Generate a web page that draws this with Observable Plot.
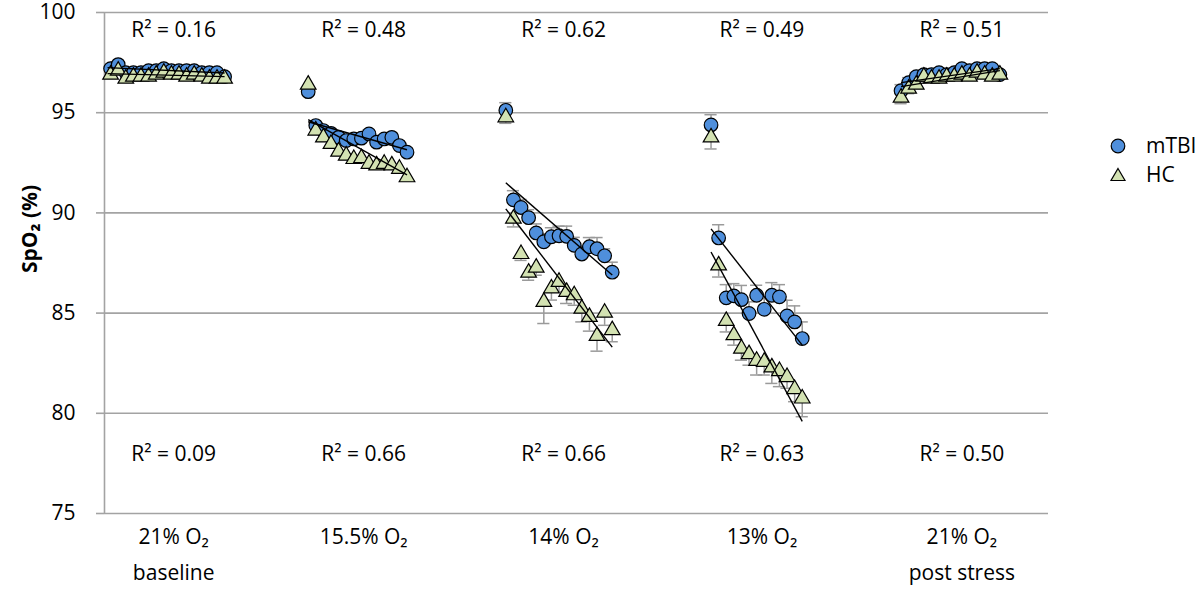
<!DOCTYPE html>
<html>
<head>
<meta charset="utf-8">
<script src="https://cdn.jsdelivr.net/npm/d3@7"></script>
<script src="https://cdn.jsdelivr.net/npm/@observablehq/plot@0.6"></script>
<style>
  body { margin: 0; background: #fff; font-family: "Open Sans", sans-serif; }
  #wrap { position: relative; width: 1198px; height: 595px; }
  #legend { position: absolute; left: 1109px; top: 131px; font-size: 21px; line-height: 29px; color: #000; }
  #legend div { display: flex; align-items: center; height: 29px; }
  #legend svg { margin-right: 19px; }
</style>
</head>
<body>
<div id="wrap">
  <div id="chart"></div>
  <div id="legend"></div>
</div>
<script>
// ---- data ----
const phaseLabels = ["21% O\u2082\nbaseline", "15.5% O\u2082", "14% O\u2082", "13% O\u2082", "21% O\u2082\npost stress"];
const phaseLabelX = [9.3, 34.3, 60.6, 86.7, 113];           // minute at which each phase label sits
const r2mTBI = ["0.16", "0.48", "0.62", "0.49", "0.51"];
const r2HC   = ["0.09", "0.66", "0.66", "0.63", "0.50"];
const phaseStart = [1, 27, 53, 80, 105];                      // minute of the first sample of each phase

const mtbiValues = [
  [97.2, 97.4, 97.0, 97.0, 97.0, 97.1, 97.1, 97.2, 97.1, 97.1, 97.1, 97.1, 97.0, 97.0, 97.0, 96.8],
  [96.05, 94.36, 94.11, 93.97, 93.77, 93.61, 93.69, 93.73, 93.94, 93.53, 93.69, 93.77, 93.36, 93.03],
  [95.12, 90.65, 90.27, 89.76, 89.0, 88.56, 88.81, 88.86, 88.83, 88.38, 87.95, 88.31, 88.21, 87.86, 87.04],
  [94.39, 88.75, 85.76, 85.86, 85.67, 84.98, 85.89, 85.19, 85.89, 85.81, 84.86, 84.56, 83.73],
  [96.1, 96.5, 96.8, 96.9, 96.9, 97.0, 96.9, 97.0, 97.2, 97.1, 97.2, 97.2, 97.2, 96.9]
];
const hcValues = [
  [96.9, 97.1, 96.7, 96.8, 96.8, 96.8, 96.9, 97.0, 96.9, 96.9, 96.8, 96.9, 96.8, 96.7, 96.7, 96.7],
  [96.4, 94.11, 93.77, 93.44, 93.06, 92.86, 92.69, 92.73, 92.45, 92.37, 92.45, 92.37, 92.20, 91.78],
  [94.77, 89.71, 87.95, 87.02, 87.27, 85.56, 86.23, 86.56, 86.06, 85.89, 85.22, 84.81, 83.86, 85.02, 84.15],
  [93.77, 87.38, 84.61, 83.90, 83.23, 82.95, 82.62, 82.57, 82.29, 82.11, 81.81, 81.21, 80.74],
  [95.75, 96.2, 96.4, 96.8, 96.7, 96.7, 96.8, 96.8, 96.9, 96.8, 97.0, 96.9, 96.8, 96.9]
];
const mtbiSE = [
  [0.12, 0.12, 0.12, 0.12, 0.12, 0.12, 0.12, 0.12, 0.12, 0.12, 0.12, 0.12, 0.12, 0.12, 0.12, 0.12],
  [0.2, 0.15, 0.15, 0.15, 0.15, 0.18, 0.18, 0.18, 0.2, 0.2, 0.2, 0.2, 0.2, 0.22],
  [0.38, 0.46, 0.4, 0.4, 0.45, 0.4, 0.45, 0.48, 0.51, 0.4, 0.4, 0.46, 0.56, 0.35, 0.5],
  [0.51, 0.66, 0.66, 0.61, 0.71, 0.58, 0.5, 0.53, 0.63, 0.61, 0.78, 0.8, 0.83],
  [0.3, 0.25, 0.2, 0.2, 0.15, 0.15, 0.15, 0.15, 0.15, 0.15, 0.15, 0.15, 0.15, 0.15]
];
const hcSE = [
  [0.12, 0.12, 0.12, 0.12, 0.12, 0.12, 0.12, 0.12, 0.12, 0.12, 0.12, 0.12, 0.12, 0.12, 0.12, 0.12],
  [0.15, 0.2, 0.2, 0.2, 0.2, 0.2, 0.2, 0.2, 0.2, 0.2, 0.2, 0.2, 0.2, 0.2],
  [0.3, 0.41, 0.32, 0.38, 0.38, 1.08, 0.58, 0.5, 0.58, 0.5, 0.66, 0.71, 0.76, 0.63, 0.58],
  [0.58, 0.58, 0.55, 0.5, 0.58, 0.55, 0.71, 0.66, 0.8, 0.78, 0.56, 0.63, 0.91],
  [0.3, 0.25, 0.2, 0.2, 0.15, 0.15, 0.15, 0.15, 0.15, 0.15, 0.15, 0.15, 0.15, 0.15]
];
// trend lines: [start minute, end minute] and [start value, end value]
const trendX    = [[0.6, 16], [27, 40], [53, 67], [80, 92], [105, 118]];
const mtbiTrend = [[97.25, 96.98], [94.55, 93.15], [91.5, 86.9], [89.2, 83.4], [96.5, 97.2]];
const hcTrend   = [[96.95, 96.8], [94.65, 91.9], [90.2, 83.3], [88.05, 79.6], [96.3, 97.1]];
const yTicks = [75, 80, 85, 90, 95, 100];

// ---- build tables ----
function points(values, se, group) {
  const out = [];
  values.forEach((arr, p) => arr.forEach((v, i) => out.push({t: phaseStart[p] + i, v, se: se[p][i], group})));
  return out;
}
const mtbi = points(mtbiValues, mtbiSE, "mTBI");
const hc = points(hcValues, hcSE, "HC");
mtbi.forEach(d => { d.lo = d.v; d.hi = d.v + d.se; d.cap = d.hi; });
hc.forEach(d => { d.lo = d.v - d.se; d.hi = d.v; d.cap = d.lo; });
const errs = mtbi.concat(hc);
const capHalf = 0.8;

const trends = [];
trendX.forEach((tx, p) => {
  trends.push({x1: tx[0], x2: tx[1], y1: mtbiTrend[p][0], y2: mtbiTrend[p][1]});
  trends.push({x1: tx[0], x2: tx[1], y1: hcTrend[p][0], y2: hcTrend[p][1]});
});
const phases = phaseLabels.map((label, i) => ({label, x: phaseLabelX[i], top: "R\u00B2 = " + r2mTBI[i], bottom: "R\u00B2 = " + r2HC[i]}));

const blue = "#4f8fdc", green = "#d3e2b2", grid = "#a3a3a3";
const fs = 21;

const chart = Plot.plot({
  width: 1198,
  height: 595,
  marginTop: 12,
  marginBottom: 82,
  marginLeft: 104,
  marginRight: 150,
  style: {fontFamily: "'Open Sans', sans-serif", fontSize: fs + "px", color: "#000", background: "#fff", overflow: "visible"},
  x: {domain: [0.2, 124.4], axis: null},
  y: {domain: [75, 100], axis: null},
  marks: [
    Plot.ruleY(yTicks, {stroke: grid, strokeWidth: 1.6}),
    Plot.axisY({ticks: yTicks, tickSize: 8, tickPadding: 21, stroke: grid, strokeWidth: 1.6, fill: "#000", fontSize: fs, label: null}),
    Plot.ruleX([0.2], {stroke: grid, strokeWidth: 1.6}),
    // error bars
    Plot.ruleX(errs, {x: "t", y1: "lo", y2: "hi", stroke: "#9a9a9a", strokeWidth: 1.5}),
    Plot.ruleY(errs, {y: "cap", x1: d => d.t - capHalf, x2: d => d.t + capHalf, stroke: "#9a9a9a", strokeWidth: 1.5}),
    // markers
    Plot.dot(mtbi, {x: "t", y: "v", r: 6.8, fill: blue, stroke: "#000", strokeWidth: 1.2}),
    Plot.dot(hc, {x: "t", y: "v", r: 5.8, symbol: "triangle", fill: green, stroke: "#000", strokeWidth: 1.2}),
    // trend lines
    Plot.link(trends, {x1: "x1", x2: "x2", y1: "y1", y2: "y2", stroke: "#000", strokeWidth: 1.4}),
    // R² labels
    Plot.text(phases, {x: "x", text: "top", frameAnchor: "top", dy: 10, fontSize: fs}),
    Plot.text(phases, {x: "x", text: "bottom", frameAnchor: "bottom", dy: -53, fontSize: fs}),
    // phase labels
    Plot.text(phases, {x: "x", text: "label", frameAnchor: "bottom", lineAnchor: "top", dy: 5, lineHeight: 1.72, fontSize: fs}),
    // y-axis title
    Plot.text(["SpO\u2082 (%)"], {frameAnchor: "left", textAnchor: "middle", dx: -74, dy: -34, rotate: -90, fontWeight: "bold", fontSize: fs})
  ]
});
document.getElementById("chart").appendChild(chart);

// legend
const legendItems = [
  {label: "mTBI", svg: `<svg width="18" height="18"><circle cx="9" cy="9" r="6.8" fill="${blue}" stroke="#000" stroke-width="1.2"/></svg>`},
  {label: "HC", svg: `<svg width="18" height="18"><path d="M9,2.5 L16,14.5 L2,14.5 Z" fill="${green}" stroke="#000" stroke-width="1.2"/></svg>`}
];
document.getElementById("legend").innerHTML = legendItems.map(d => `<div>${d.svg}<span>${d.label}</span></div>`).join("");
</script>
</body>
</html>
